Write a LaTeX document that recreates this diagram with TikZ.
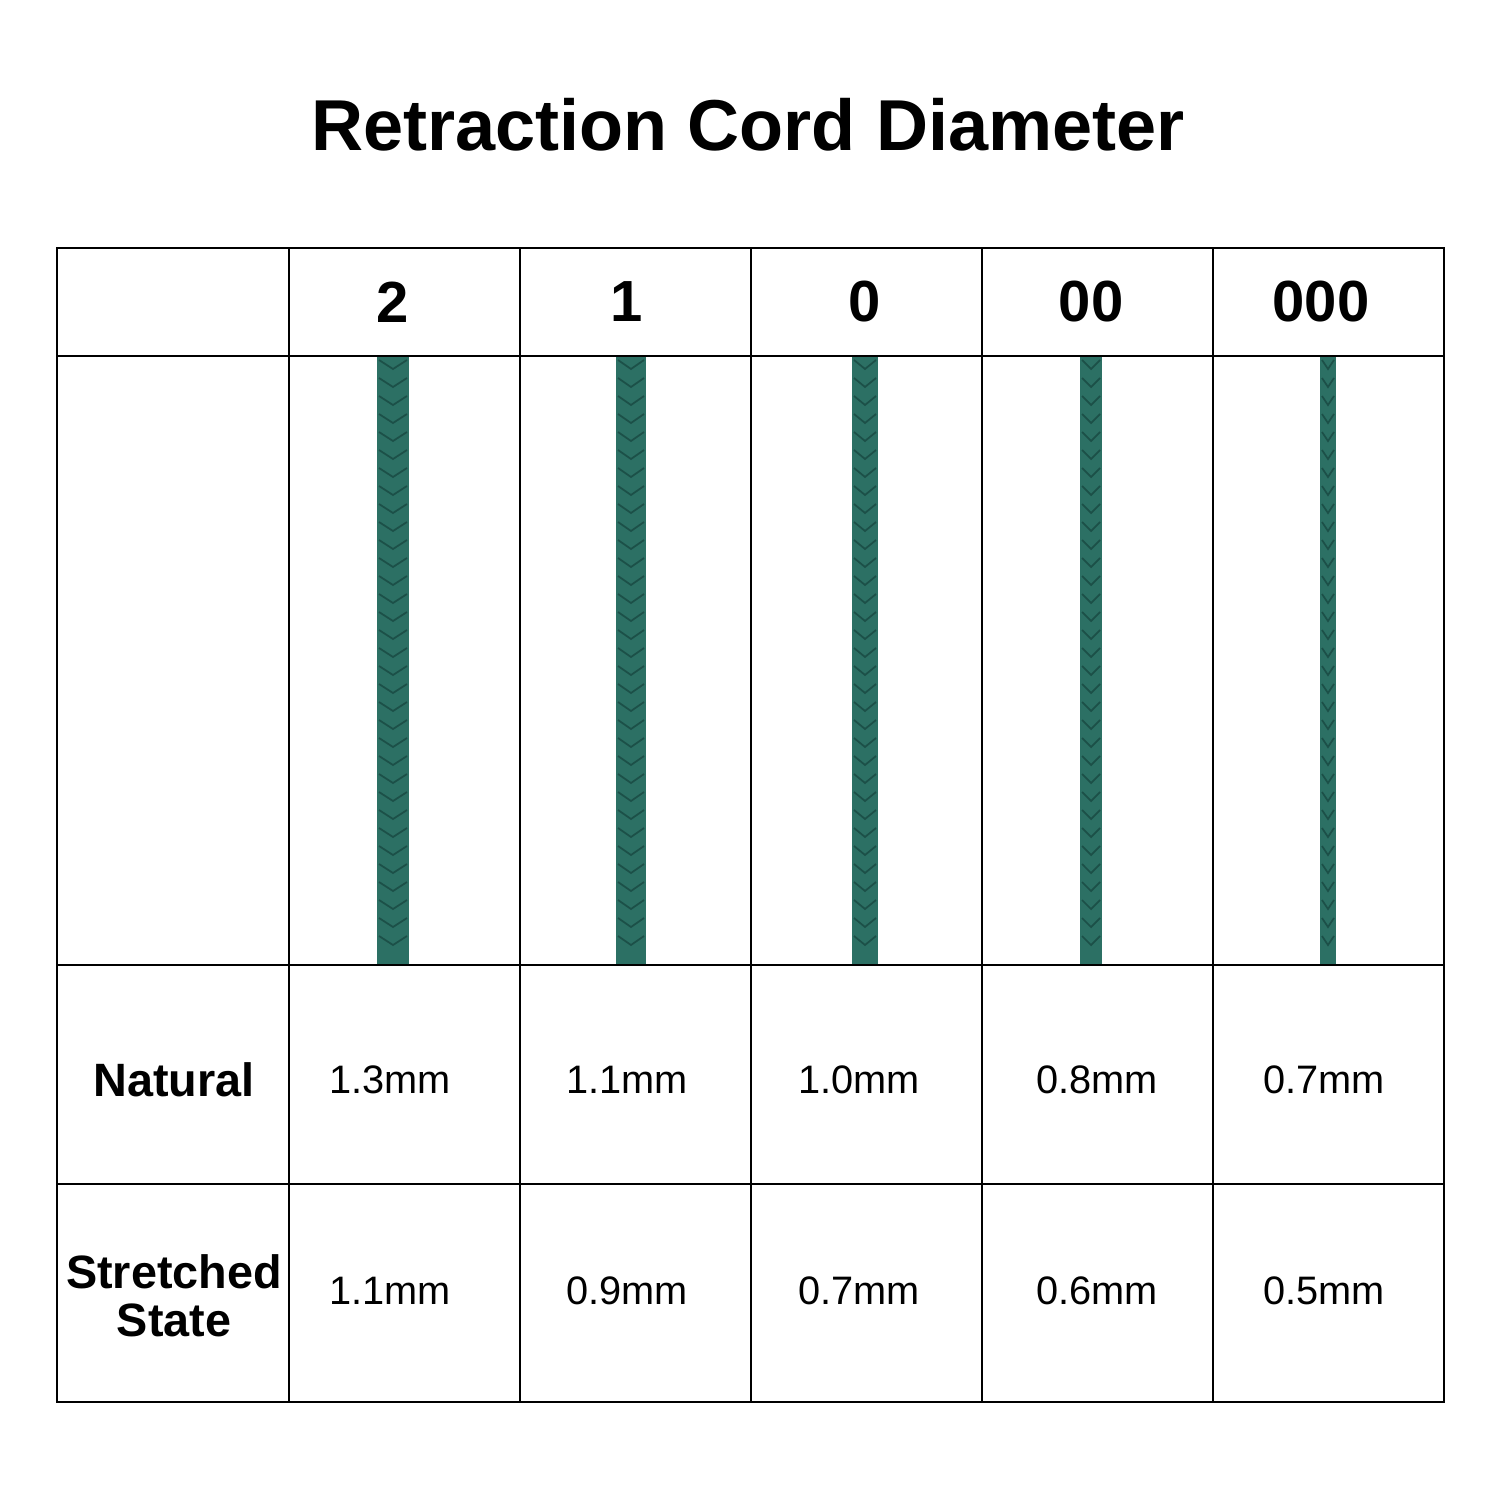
\documentclass[tikz,border=0pt]{standalone}
\usepackage{fontspec}
\setmainfont{Liberation Sans}
\definecolor{cord}{RGB}{44,112,100}
\definecolor{corddark}{RGB}{28,80,72}
\begin{document}
\begin{tikzpicture}[x=0.01cm,y=-0.01cm,
  hdr/.style={font=\fontsize{16.5}{18}\selectfont\bfseries},
  lbl/.style={font=\fontsize{13.3}{13.7}\selectfont\bfseries,align=center},
  val/.style={font=\fontsize{11.3}{13}\selectfont}]
\useasboundingbox (0,0) rectangle (1500,1500);
\fill[white] (0,0) rectangle (1500,1500);
\node[font=\fontsize{20.5}{24}\selectfont\bfseries] (title) at (748,125) {Retraction Cord Diameter};
% cords
\foreach \cx/\w [count=\i] in {393/32,631/30,865/26,1091/22,1328/16}{
  \fill[cord] (\cx-\w/2,357) rectangle (\cx+\w/2,964);
  \foreach \yy in {360,378,...,950}{
    \draw[corddark,line width=0.5pt] (\cx-\w/2+2,\yy) -- (\cx,\yy+9) -- (\cx+\w/2-2,\yy);
  }
}
% grid
\draw[line width=0.7pt] (57,248) rectangle (1444,1402);
\foreach \x in {289,520,751,982,1213} \draw[line width=0.7pt] (\x,248) -- (\x,1402);
\foreach \y in {356,965,1184} \draw[line width=0.7pt] (57,\y) -- (1444,\y);
% headers
\node[hdr] (h1) at (393,302) {2};
\node[hdr] (h2) at (627,302) {1};
\node[hdr] (h3) at (865,302) {0};
\node[hdr] (h4) at (1091,302) {00};
\node[hdr] (h5) at (1321,302) {000};
\node[lbl] (nat) at (174,1080) {Natural};
\node[lbl] (str) at (174,1296) {Stretched\\State};
\foreach \t/\x [count=\i] in {1.3mm/390,1.1mm/627,1.0mm/859,0.8mm/1097,0.7mm/1324}
  \node[val] (n\i) at (\x,1080) {\t};
\foreach \t/\x [count=\i] in {1.1mm/390,0.9mm/627,0.7mm/859,0.6mm/1097,0.5mm/1324}
  \node[val] (s\i) at (\x,1291) {\t};
\end{tikzpicture}
\end{document}
